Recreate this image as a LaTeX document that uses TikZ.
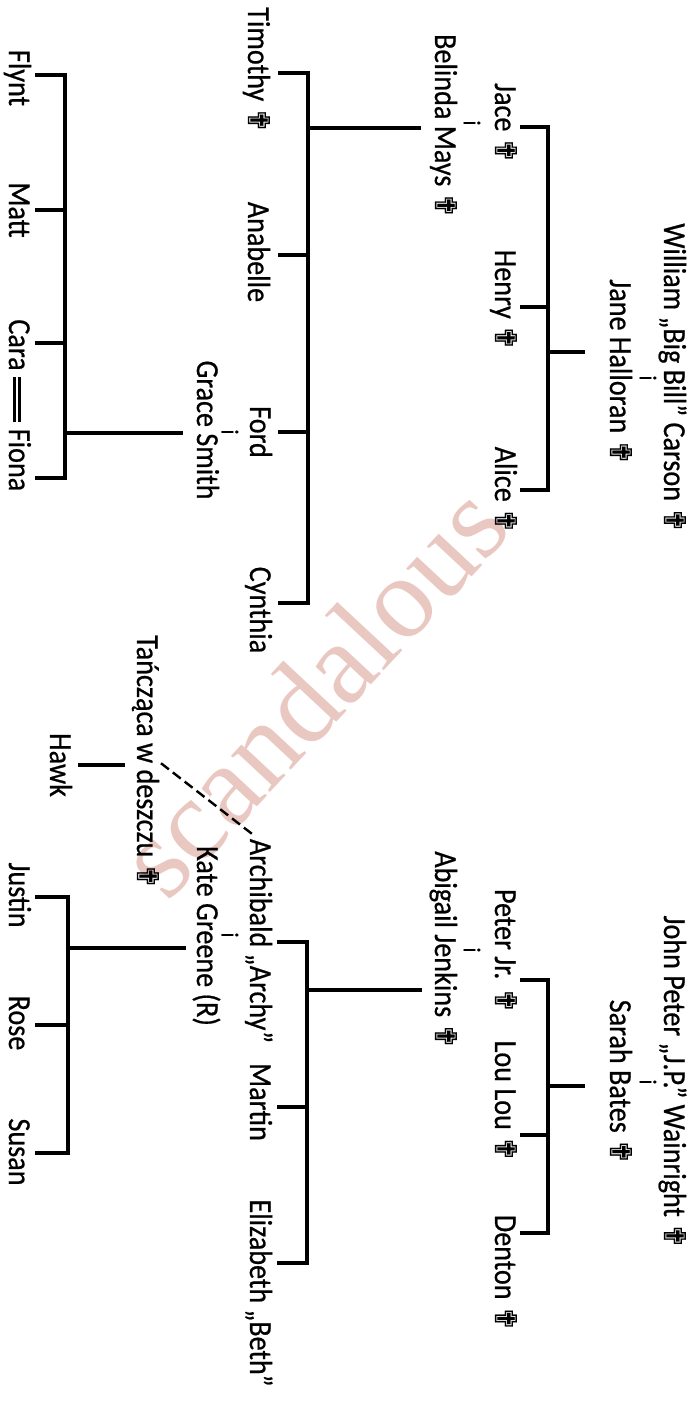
\documentclass[tikz,border=0pt]{standalone}
\usepackage{fontspec}
\setmainfont{Carlito}[FakeStretch=0.88, FakeBold=0.6]
\newfontfamily\symfont{DejaVu Sans}[FakeBold=0.5]
\newfontfamily\markfont{Liberation Serif}
\newcommand{\dead}{{\symfont\fontsize{15}{15}\selectfont ✟}}
\definecolor{wmpink}{RGB}{234,200,194}
\tikzset{
  person/.style={rotate=-90, inner sep=0pt, font=\fontsize{16}{16}\selectfont,
                 text height=11pt, text depth=3pt},
  andsign/.style={rotate=-90, inner sep=0pt, font=\fontsize{12}{12}\selectfont},
  line/.style={line width=1.9pt},
  twin/.style={double, double distance=1.4pt, line width=1.2pt},
  affair/.style={line width=1.2pt, dash pattern=on 5pt off 2.5pt},
  markstyle/.style={rotate=47, inner sep=0pt, text=wmpink,
                    font=\markfont\fontsize{58}{58}\selectfont},
}
\begin{document}
\begin{tikzpicture}[x=0.5pt, y=-0.5pt]
\useasboundingbox (0,0) rectangle (697,1403);

% ===== Znak wodny =====
\node[markstyle] (wm) at (312,690) {scandalous};

% ===== Carson =====
\node[person] (william) at (672,378) {William „Big Bill” Carson \dead};
\node[andsign] (carsonI) at (648,378) {i};
\node[person] (jane) at (618,372) {Jane Halloran \dead};

\node[person] (jace) at (503,123) {Jace \dead};
\node[andsign] (jaceI) at (472,123) {i};
\node[person] (belinda) at (443,126) {Belinda Mays \dead};
\node[person] (henry) at (503,300) {Henry \dead};
\node[person] (alice) at (503,490) {Alice \dead};

\node[person] (timothy) at (256,70) {Timothy \dead};
\node[person] (anabelle) at (256,252) {Anabelle};
\node[person] (ford) at (258,432) {Ford};
\node[andsign] (fordI) at (230,432) {i};
\node[person] (grace) at (205,430) {Grace Smith};
\node[person] (cynthia) at (258,610) {Cynthia};

\node[person] (flynt) at (17,78) {Flynt};
\node[person] (matt) at (17,210) {Matt};
\node[person] (cara) at (17,345) {Cara};
\node[person] (fiona) at (17,460) {Fiona};

% ===== Wainright =====
\node[person] (john) at (672,1082) {John Peter „J.P.” Wainright \dead};
\node[andsign] (wainI) at (648,1082) {i};
\node[person] (sarah) at (618,1082) {Sarah Bates \dead};

\node[person] (peter) at (503,951) {Peter Jr. \dead};
\node[andsign] (peterI) at (472,950) {i};
\node[person] (abigail) at (443,950) {Abigail Jenkins \dead};
\node[person] (loulou) at (503,1101) {Lou Lou \dead};
\node[person] (denton) at (503,1273) {Denton \dead};

\node[person] (archibald) at (258,941) {Archibald „Archy”};
\node[andsign] (archI) at (230,935) {i};
\node[person] (kate) at (205,936) {Kate Greene (R)};
\node[person] (martin) at (258,1102) {Martin};
\node[person] (elizabeth) at (258,1293) {Elizabeth „Beth”};

\node[person] (tancz) at (145,762) {Tańcząca w deszczu \dead};
\node[person] (hawk) at (58,765) {Hawk};

\node[person] (justin) at (17,895) {Justin};
\node[person] (rose) at (17,1023) {Rose};
\node[person] (susan) at (17,1152) {Susan};

% ===== Punkty linii =====
\coordinate (carsonBar) at (548,352);
\coordinate (carsonStub) at (585,352);
\coordinate (tJace) at (520,127);
\coordinate (tHenry) at (520,307);
\coordinate (tAlice) at (520,490);

\coordinate (jaceBar) at (308,128);
\coordinate (tTim) at (278,73);
\coordinate (tAna) at (278,255);
\coordinate (tFord) at (278,432);
\coordinate (tCyn) at (278,603);

\coordinate (fordBar) at (65,433);
\coordinate (tFlynt) at (35,75);
\coordinate (tMatt) at (35,210);
\coordinate (tCara) at (35,343);
\coordinate (tFiona) at (35,478);

\coordinate (wainBar) at (548,1086);
\coordinate (wainStub) at (585,1086);
\coordinate (tPeter) at (520,980);
\coordinate (tLou) at (520,1135);
\coordinate (tDenton) at (520,1233);

\coordinate (peterBar) at (307,990);
\coordinate (tArch) at (277,942);
\coordinate (tMartin) at (277,1107);
\coordinate (tBeth) at (277,1263);

\coordinate (kateBar) at (68,948);
\coordinate (tJustin) at (35,897);
\coordinate (tRose) at (35,1025);
\coordinate (tSusan) at (35,1153);

% ===== Linie =====
\draw[line] (carsonBar) -- (carsonStub);
\draw[line] (tJace) -| (carsonBar) |- (tAlice);
\draw[line] (tHenry) -- (tHenry -| carsonBar);

\draw[line, shorten <=4pt] (belinda.south |- jaceBar) -- (jaceBar);
\draw[line] (tTim) -| (jaceBar) |- (tCyn);
\foreach \c in {tAna,tFord}
  \draw[line] (\c) -- (\c -| jaceBar);

\draw[line, shorten <=4pt] (grace.south |- fordBar) -- (fordBar);
\draw[line] (tFlynt) -| (fordBar) |- (tFiona);
\foreach \c in {tMatt,tCara}
  \draw[line] (\c) -- (\c -| fordBar);
\draw[twin, shorten <=3pt, shorten >=3pt] (cara.east) -- (fiona.west);

\draw[line] (wainBar) -- (wainStub);
\draw[line] (tPeter) -| (wainBar) |- (tDenton);
\draw[line] (tLou) -- (tLou -| wainBar);

\draw[line, shorten <=3.5pt] (abigail.south |- peterBar) -- (peterBar);
\draw[line] (tArch) -| (peterBar) |- (tBeth);
\draw[line] (tMartin) -- (tMartin -| peterBar);

\draw[line, shorten <=2.5pt] (kate.south |- kateBar) -- (kateBar);
\draw[line] (tJustin) -| (kateBar) |- (tSusan);
\draw[line] (tRose) -- (tRose -| kateBar);

\draw[affair, shorten <=1pt, shorten >=3pt] (tancz.north) -- (archibald.west);
\draw[line, shorten <=3pt, shorten >=3pt] (hawk.north) -- (hawk.north -| tancz.south);

\end{tikzpicture}
\end{document}
